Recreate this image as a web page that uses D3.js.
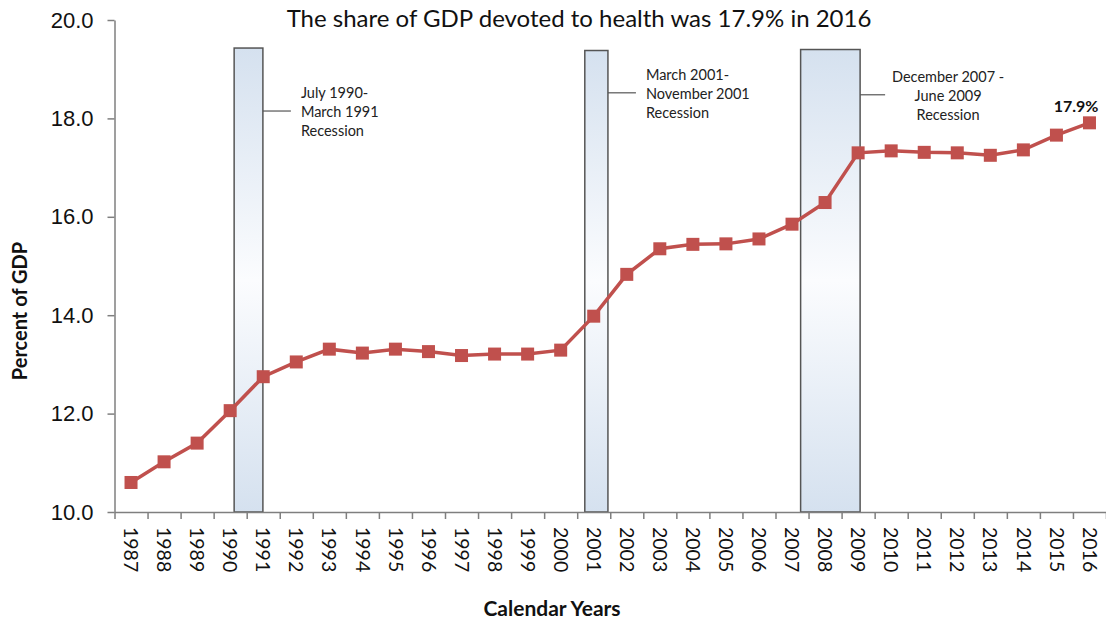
<!DOCTYPE html>
<html>
<head>
<meta charset="utf-8">
<script src="https://cdn.jsdelivr.net/npm/d3@7"></script>
<style>
  body { margin: 0; background: #fff; }
  svg { font-family: Lato, "Open Sans", sans-serif; }
  .axis path, .axis line { stroke: #7f7f7f; stroke-width: 1.5; }
</style>
</head>
<body>
<div id="chart"></div>
<script>
// data
var years = d3.range(1987, 2017);
var gdpShare = [10.6, 11.02, 11.4, 12.06, 12.75, 13.05, 13.31, 13.23, 13.31, 13.26,
    13.18, 13.21, 13.21, 13.29, 13.98, 14.83, 15.35, 15.44, 15.45, 15.55,
    15.85, 16.29, 17.3, 17.34, 17.31, 17.3, 17.25, 17.36, 17.66, 17.91];
var yTicks = [10, 12, 14, 16, 18, 20];

var recStart = [1990.62, 2001.23, 2007.76];
var recEnd = [1991.49, 2001.93, 2009.56];
var recTop = [19.43, 19.38, 19.4];
var recLabels = [
    ["July 1990-", "March 1991", "Recession"],
    ["March 2001-", "November 2001", "Recession"],
    ["December 2007 -", "June 2009", "Recession"]
];
var recLinkValue = [18.15, 18.52, 18.48];

var titleText = "The share of GDP devoted to health was 17.9% in 2016";
var lastLabel = "17.9%";

var width = 1106, height = 620;
var margin = {top: 20, left: 114.5, bottom: 108, right: 0};
var plot_height = height - margin.top - margin.bottom;

var x = d3.scaleLinear().domain([1987, 2017]).range([0, 991.5]);
var xb = d3.scaleBand().domain(years).range(x.range());
var y = d3.scaleLinear().domain([10, 20]).range([plot_height, 0]);

var svg = d3.select("#chart").append("svg")
    .attr("width", width)
    .attr("height", height);

svg.append("rect").attr("width", width).attr("height", height).attr("fill", "#fff");

var defs = svg.append("defs");
var grad = defs.append("linearGradient")
    .attr("id", "recGrad")
    .attr("x1", 0).attr("y1", 0).attr("x2", 0).attr("y2", 1);
grad.append("stop").attr("offset", "0%").attr("stop-color", "#d5e1ef");
grad.append("stop").attr("offset", "50%").attr("stop-color", "#fbfcfe");
grad.append("stop").attr("offset", "100%").attr("stop-color", "#d5e1ef");

var vis = svg.append("g")
    .attr("transform", "translate(" + margin.left + "," + margin.top + ")");

// recession boxes----------------------------
var rec = vis.selectAll("g.rec")
    .data(recStart)
    .enter().append("g")
    .attr("class", "rec");

rec.append("rect")
    .attr("x", function (d) { return x(d); })
    .attr("y", function (d, i) { return y(recTop[i]); })
    .attr("width", function (d, i) { return x(recEnd[i]) - x(d); })
    .attr("height", function (d, i) { return y(10) - y(recTop[i]); })
    .attr("fill", "url(#recGrad)")
    .attr("stroke", "#555")
    .attr("stroke-width", 1.5);

rec.append("line")
    .attr("x1", function (d, i) { return x(recEnd[i]); })
    .attr("x2", function (d, i) { return x(recEnd[i]) + (i == 2 ? 25 : 28); })
    .attr("y1", function (d, i) { return y(recLinkValue[i]); })
    .attr("y2", function (d, i) { return y(recLinkValue[i]); })
    .attr("stroke", "#555")
    .attr("stroke-width", 1.2);

rec.each(function (d, i) {
    var g = d3.select(this);
    var centered = (i == 2);
    var tx = centered ? x(recEnd[i]) + 88 : x(recEnd[i]) + 38;
    var ty = y(recLinkValue[i]) + (i == 0 ? -13 : -13);
    g.selectAll("text")
        .data(recLabels[i])
        .enter().append("text")
        .attr("x", tx)
        .attr("y", function (t, j) { return ty + j * 19; })
        .attr("text-anchor", centered ? "middle" : "start")
        .style("font-size", "14.5px")
        .style("fill", "#222")
        .text(function (t) { return t; });
});

// axes----------------------------
var yaxis = d3.axisLeft(y)
    .tickValues(yTicks)
    .tickSize(7)
    .tickSizeOuter(0)
    .tickFormat(d3.format(".1f"));

vis.append("g")
    .attr("class", "axis yaxis")
    .call(yaxis)
    .selectAll("text")
    .attr("x", -21)
    .style("font-size", "22px")
    .style("fill", "#111");

vis.append("g")
    .attr("class", "axis xaxis")
    .attr("transform", "translate(0," + plot_height + ")")
    .call(d3.axisBottom(x).tickValues(d3.range(1987, 2018)).tickFormat("").tickSize(7).tickSizeOuter(0));

var xlabels = vis.append("g")
    .attr("transform", "translate(0," + plot_height + ")")
    .call(d3.axisBottom(xb).tickSize(0));
xlabels.select(".domain").remove();
xlabels.selectAll("text")
    .attr("transform", "rotate(90)")
    .attr("x", 15)
    .attr("y", 0)
    .attr("dy", "0.35em")
    .style("text-anchor", "start")
    .style("font-size", "19.5px")
    .style("font-family", "Lato, sans-serif")
    .style("fill", "#111");

// line and markers----------------------------
var valueline = d3.line()
    .x(function (d, i) { return xb(years[i]) + xb.bandwidth() / 2; })
    .y(function (d) { return y(d); });

vis.append("path")
    .datum(gdpShare)
    .attr("d", valueline)
    .attr("fill", "none")
    .attr("stroke", "#c0504d")
    .attr("stroke-width", 3.5);

vis.selectAll("rect.pt")
    .data(gdpShare)
    .enter().append("rect")
    .attr("class", "pt")
    .attr("x", function (d, i) { return xb(years[i]) + xb.bandwidth() / 2 - 6.5; })
    .attr("y", function (d) { return y(d) - 6.5; })
    .attr("width", 13)
    .attr("height", 13)
    .attr("fill", "#c0504d");

vis.append("text")
    .attr("x", xb(years[years.length - 1]) + xb.bandwidth() / 2 + 9)
    .attr("y", y(gdpShare[gdpShare.length - 1]) - 11)
    .style("text-anchor", "end")
    .style("font-size", "16px")
    .style("font-weight", "bold")
    .style("fill", "#111")
    .text(lastLabel);

// titles----------------------------
svg.append("text")
    .attr("x", 579)
    .attr("y", 27)
    .style("text-anchor", "middle")
    .style("font-size", "24px")
    .style("fill", "#111")
    .text(titleText);

svg.append("text")
    .attr("x", -311)
    .attr("y", 27)
    .attr("transform", "rotate(-90)")
    .style("text-anchor", "middle")
    .style("font-size", "20px")
    .style("font-weight", "bold")
    .style("fill", "#111")
    .text("Percent of GDP");

svg.append("text")
    .attr("x", 552)
    .attr("y", 616)
    .style("text-anchor", "middle")
    .style("font-size", "21px")
    .style("font-weight", "bold")
    .style("fill", "#111")
    .text("Calendar Years");
</script>
</body>
</html>
